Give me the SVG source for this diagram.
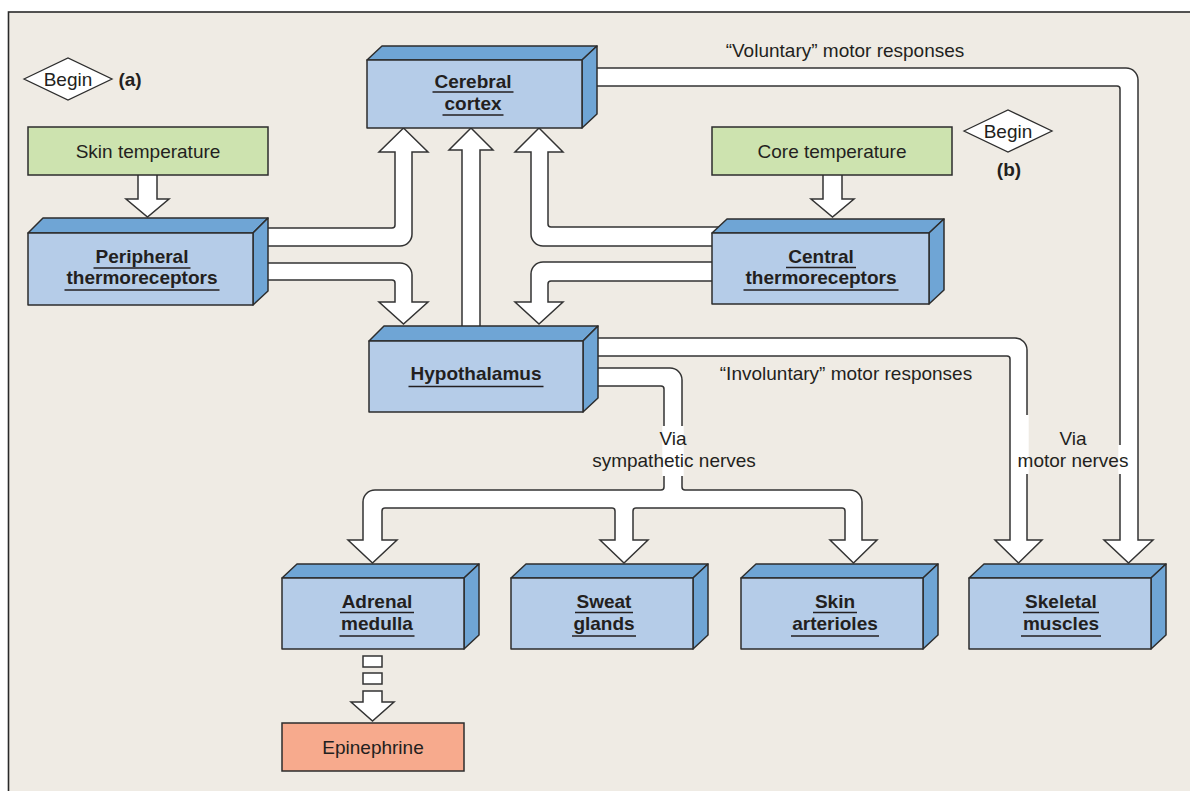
<svg xmlns="http://www.w3.org/2000/svg" width="1190" height="791" viewBox="0 0 1190 791">
  <style>
    .frame { fill: #EFEBE4; stroke: #2a2a2a; stroke-width: 1.6; }
    .front { fill: #B5CCE8; stroke: #2d2d2d; stroke-width: 1.5; stroke-linejoin: round; }
    .dark { fill: #6FA5D5; stroke: #2d2d2d; stroke-width: 1.5; stroke-linejoin: round; }
    .green { fill: #CDE3AF; stroke: #2d2d2d; stroke-width: 1.5; }
    .salmon { fill: #F7AA8D; stroke: #2d2d2d; stroke-width: 1.5; }
    .diamond { fill: #FFFFFF; stroke: #2d2d2d; stroke-width: 1.3; }
    .arrow { fill: #FFFFFF; stroke: #333333; stroke-width: 1.5; stroke-linejoin: miter; }
    .gap { fill: #FFFFFF; }
    .t { font-family: "Liberation Sans", Arial, Helvetica, sans-serif; font-size: 19px; fill: #231F20; text-anchor: middle; }
    .b { font-weight: bold; }
    .ul { stroke: #231F20; stroke-width: 1.5; }
  </style>

  <!-- panel background -->
  <rect class="frame" x="8.5" y="12" width="1200" height="800"/>

  <!-- connectors -->
  <g id="connectors">
    <!-- skin temperature -> peripheral thermoreceptors -->
    <path class="arrow" d="M138,172 V199 H126 L147.5,217 L169,199 H157 V172 Z"/>
    <!-- core temperature -> central thermoreceptors -->
    <path class="arrow" d="M823,172 V199 H811 L832.5,217 L854,199 H842 V172 Z"/>
    <!-- peripheral -> cerebral cortex -->
    <path class="arrow" d="M260,228 H392 Q395,228 395,225 V152 H379 L403.5,128 L428,152 H412 V234 A12,12 0 0 1 400,246 H260 Z"/>
    <!-- peripheral -> hypothalamus -->
    <path class="arrow" d="M260,263 H400 A12,12 0 0 1 412,275 V302 H428 L403.5,324 L379,302 H395 V283 Q395,280 392,280 H260 Z"/>
    <!-- hypothalamus -> cerebral cortex -->
    <path class="arrow" d="M462,336 V150 H449 L471,128 L493,150 H480 V336 Z"/>
    <!-- central -> cerebral cortex -->
    <path class="arrow" d="M722,227 H551 Q548,227 548,224 V152 H563 L539,128 L515,152 H531 V234 A12,12 0 0 0 543,246 H722 Z"/>
    <!-- central -> hypothalamus -->
    <path class="arrow" d="M722,262 H543 A12,12 0 0 0 531,274 V302 H515 L539,324 L563,302 H548 V284 Q548,281 551,281 H722 Z"/>
    <!-- voluntary motor responses: cortex -> skeletal muscles -->
    <path class="arrow" d="M590,68 H1126 A12,12 0 0 1 1138,80 V540 H1153 L1128.5,563 L1104,540 H1120 V89 Q1120,86 1117,86 H590 Z"/>
    <!-- involuntary motor responses: hypothalamus -> skeletal muscles -->
    <path class="arrow" d="M590,338 H1015 A12,12 0 0 1 1027,350 V540 H1042 L1018.5,563 L995,540 H1010 V359 Q1010,356 1007,356 H590 Z"/>
    <!-- sympathetic branch: hypothalamus -> adrenal, sweat glands, skin arterioles -->
    <path class="arrow" d="M590,368 H670 A12,12 0 0 1 682,380 V487 Q682,490 685,490 H850 A12,12 0 0 1 862,502 V540 H877 L853.5,563 L830,540 H845 V511 Q845,508 842,508 H636 Q633,508 633,511 V540 H648 L624,563 L600,540 H615 V511 Q615,508 612,508 H385 Q382,508 382,511 V540 H397 L372.5,563 L348,540 H363 V502 A12,12 0 0 1 375,490 H661 Q664,490 664,487 V389 Q664,386 661,386 H590 Z"/>
    <!-- adrenal medulla -> epinephrine (dashed) -->
    <rect class="arrow" x="363" y="656" width="19" height="11"/>
    <rect class="arrow" x="363" y="673" width="19" height="11"/>
    <path class="arrow" d="M363,691 H382 V702 H394 L372.5,721 L351,702 H363 Z"/>
    <!-- outline breaks behind the nerve labels -->
    <rect class="gap" x="662.3" y="426" width="3.4" height="50"/>
    <rect class="gap" x="680.3" y="426" width="3.4" height="50"/>
    <rect class="gap" x="1025.3" y="415" width="3.4" height="59"/>
    <rect class="gap" x="1118.3" y="445" width="3.4" height="29"/>
  </g>

  <!-- start markers -->
  <g id="begin-a">
    <polygon class="diamond" points="24,79 68,58 112,79 68,100"/>
    <text class="t" x="68" y="86">Begin</text>
    <text class="t b" x="130" y="86">(a)</text>
  </g>
  <g id="begin-b">
    <polygon class="diamond" points="964,131 1008,110 1052,131 1008,152"/>
    <text class="t" x="1008" y="138">Begin</text>
    <text class="t b" x="1009" y="176">(b)</text>
  </g>

  <!-- stimulus boxes -->
  <g id="skin-temperature">
    <rect class="green" x="28" y="127" width="240" height="48"/>
    <text class="t" x="148" y="158">Skin temperature</text>
  </g>
  <g id="core-temperature">
    <rect class="green" x="712" y="127" width="240" height="48"/>
    <text class="t" x="832" y="158">Core temperature</text>
  </g>

  <!-- 3D blocks -->
  <g id="cerebral-cortex">
    <polygon class="dark" points="367,60 382,46 597,46 582,60"/>
    <polygon class="dark" points="582,60 597,46 597,114 582,128"/>
    <rect class="front" x="367" y="60" width="215" height="68"/>
    <text class="t b" x="473" y="88">Cerebral</text>
    <line class="ul" x1="432.5" y1="92" x2="513.5" y2="92"/>
    <text class="t b" x="473" y="110">cortex</text>
    <line class="ul" x1="442.5" y1="115" x2="503.5" y2="115"/>
  </g>

  <g id="peripheral-thermoreceptors">
    <polygon class="dark" points="28,233 43,218 268,218 253,233"/>
    <polygon class="dark" points="253,233 268,218 268,291 253,305"/>
    <rect class="front" x="28" y="233" width="225" height="72"/>
    <text class="t b" x="142" y="263">Peripheral</text>
    <line class="ul" x1="93.5" y1="268" x2="190.5" y2="268"/>
    <text class="t b" x="142" y="284">thermoreceptors</text>
    <line class="ul" x1="64.5" y1="290" x2="219.5" y2="290"/>
  </g>

  <g id="central-thermoreceptors">
    <polygon class="dark" points="712,233 727,219 944,219 929,233"/>
    <polygon class="dark" points="929,233 944,219 944,290 929,304"/>
    <rect class="front" x="712" y="233" width="217" height="71"/>
    <text class="t b" x="821" y="263">Central</text>
    <line class="ul" x1="786" y1="267.5" x2="856" y2="267.5"/>
    <text class="t b" x="821" y="284">thermoreceptors</text>
    <line class="ul" x1="743.5" y1="290" x2="898.5" y2="290"/>
  </g>

  <g id="hypothalamus">
    <polygon class="dark" points="369,341 384,326 598,326 583,341"/>
    <polygon class="dark" points="583,341 598,326 598,398 583,412"/>
    <rect class="front" x="369" y="341" width="214" height="71"/>
    <text class="t b" x="476" y="380">Hypothalamus</text>
    <line class="ul" x1="408.5" y1="386.5" x2="543.5" y2="386.5"/>
  </g>

  <g id="adrenal-medulla">
    <polygon class="dark" points="282,578 297,564 479,564 464,578"/>
    <polygon class="dark" points="464,578 479,564 479,635 464,649"/>
    <rect class="front" x="282" y="578" width="182" height="71"/>
    <text class="t b" x="377" y="608">Adrenal</text>
    <line class="ul" x1="340" y1="612.5" x2="414" y2="612.5"/>
    <text class="t b" x="377" y="630">medulla</text>
    <line class="ul" x1="339.5" y1="636" x2="414.5" y2="636"/>
  </g>

  <g id="sweat-glands">
    <polygon class="dark" points="511,578 526,564 708,564 693,578"/>
    <polygon class="dark" points="693,578 708,564 708,635 693,649"/>
    <rect class="front" x="511" y="578" width="182" height="71"/>
    <text class="t b" x="604" y="608">Sweat</text>
    <line class="ul" x1="575" y1="612.5" x2="633" y2="612.5"/>
    <text class="t b" x="604" y="630">glands</text>
    <line class="ul" x1="572" y1="636" x2="636" y2="636"/>
  </g>

  <g id="skin-arterioles">
    <polygon class="dark" points="741,578 756,564 938,564 923,578"/>
    <polygon class="dark" points="923,578 938,564 938,635 923,649"/>
    <rect class="front" x="741" y="578" width="182" height="71"/>
    <text class="t b" x="835" y="608">Skin</text>
    <line class="ul" x1="813" y1="612.5" x2="857" y2="612.5"/>
    <text class="t b" x="835" y="630">arterioles</text>
    <line class="ul" x1="791" y1="636" x2="879" y2="636"/>
  </g>

  <g id="skeletal-muscles">
    <polygon class="dark" points="969,578 984,564 1166,564 1151,578"/>
    <polygon class="dark" points="1151,578 1166,564 1166,635 1151,649"/>
    <rect class="front" x="969" y="578" width="182" height="71"/>
    <text class="t b" x="1061" y="608">Skeletal</text>
    <line class="ul" x1="1023" y1="612.5" x2="1099" y2="612.5"/>
    <text class="t b" x="1061" y="630">muscles</text>
    <line class="ul" x1="1021" y1="636" x2="1101" y2="636"/>
  </g>

  <g id="epinephrine">
    <rect class="salmon" x="282" y="723" width="182" height="48"/>
    <text class="t" x="373" y="754">Epinephrine</text>
  </g>

  <!-- connector labels -->
  <g id="labels">
    <text class="t" x="845" y="57">“Voluntary” motor responses</text>
    <text class="t" x="846" y="380">“Involuntary” motor responses</text>
    <text class="t" x="673" y="445">Via</text>
    <text class="t" x="674" y="467">sympathetic nerves</text>
    <text class="t" x="1073" y="445">Via</text>
    <text class="t" x="1073" y="467">motor nerves</text>
  </g>
</svg>
